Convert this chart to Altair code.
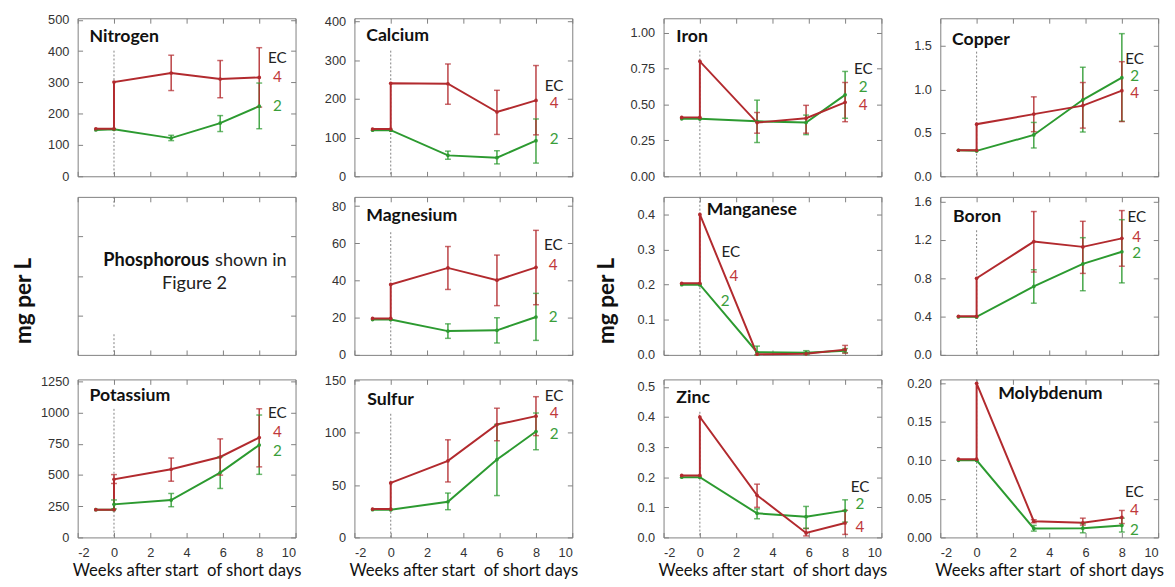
import altair as alt
import pandas as pd

# ---------------- data ----------------
WEEKS = [-1, 0, 0, 3.15, 5.85, 8]
X_TICKS = [-2, 0, 2, 4, 6, 8, 10]
X_TITLE = "Weeks after start\u00a0 of short days"
Y_TITLE = "mg per L"

# Nitrogen
N_EC4 = [152, 152, 301, 330, 311, 316]
N_EC4_HI = [None, None, None, 387, 370, 411]
N_EC4_LO = [None, None, None, 274, 251, 221]
N_EC2 = [148, 150, 150, 122, 170, 224]
N_EC2_HI = [None, None, None, 131, 194, 298]
N_EC2_LO = [None, None, None, 114, 143, 152]

# Calcium
CA_EC4 = [122, 122, 240, 239, 166, 196]
CA_EC4_HI = [None, None, None, 290, 222, 286]
CA_EC4_LO = [None, None, None, 186, 108, 107]
CA_EC2 = [119, 119, 119, 54, 48, 92]
CA_EC2_HI = [None, None, None, 65, 66, 148]
CA_EC2_LO = [None, None, None, 44, 32, 34]

# Iron
FE_EC4 = [0.41, 0.41, 0.80, 0.374, 0.404, 0.515]
FE_EC4_HI = [None, None, None, 0.444, 0.494, 0.653]
FE_EC4_LO = [None, None, None, 0.30, 0.30, 0.38]
FE_EC2 = [0.40, 0.40, 0.40, 0.383, 0.374, 0.567]
FE_EC2_HI = [None, None, None, 0.53, 0.426, 0.73]
FE_EC2_LO = [None, None, None, 0.235, 0.29, 0.404]

# Copper
CU_EC4 = [0.30, 0.30, 0.60, 0.716, 0.814, 0.986]
CU_EC4_HI = [None, None, None, 0.915, 1.08, 1.32]
CU_EC4_LO = [None, None, None, 0.514, 0.555, 0.63]
CU_EC2 = [0.30, 0.293, 0.293, 0.476, 0.881, 1.136]
CU_EC2_HI = [None, None, None, 0.62, 1.256, 1.643]
CU_EC2_LO = [None, None, None, 0.326, 0.51, 0.634]

# Magnesium
MG_EC4 = [19.6, 19.6, 37.9, 46.8, 40.2, 47.1]
MG_EC4_HI = [None, None, None, 58.3, 53.7, 67.0]
MG_EC4_LO = [None, None, None, 35.2, 26.5, 27.0]
MG_EC2 = [19.0, 19.0, 19.0, 12.8, 13.2, 20.4]
MG_EC2_HI = [None, None, None, 16.7, 20.0, 33.1]
MG_EC2_LO = [None, None, None, 8.9, 6.4, 7.8]

# Manganese
MN_EC4 = [0.204, 0.204, 0.40, 0.002, 0.003, 0.015]
MN_EC4_HI = [None, None, None, None, None, 0.027]
MN_EC4_LO = [None, None, None, None, None, 0.005]
MN_EC2 = [0.20, 0.20, 0.20, 0.0075, 0.006, 0.012]
MN_EC2_HI = [None, None, None, 0.025, 0.012, 0.018]
MN_EC2_LO = [None, None, None, 0.0, 0.001, 0.006]

# Boron
B_EC4 = [0.403, 0.403, 0.80, 1.183, 1.128, 1.217]
B_EC4_HI = [None, None, None, 1.497, 1.395, 1.507]
B_EC4_LO = [None, None, None, 0.865, 0.851, 0.926]
B_EC2 = [0.397, 0.397, 0.397, 0.715, 0.95, 1.077]
B_EC2_HI = [None, None, None, 0.889, 1.224, 1.412]
B_EC2_LO = [None, None, None, 0.54, 0.67, 0.752]

# Potassium
K_EC4 = [222, 222, 466, 546, 644, 800]
K_EC4_HI = [None, None, 503, 636, 789, 1030]
K_EC4_LO = [None, None, 432, 450, 499, 565]
K_EC2 = [222, 222, 265, 299, 519, 740]
K_EC2_HI = [None, None, 300, 352, 645, 980]
K_EC2_LO = [None, None, 228, 246, 392, 505]

# Sulfur
S_EC4 = [27.1, 27.1, 52.1, 73.2, 107.9, 115.9]
S_EC4_HI = [None, None, None, 93.3, 123.5, 134.5]
S_EC4_LO = [None, None, None, 53.0, 92.4, 97.3]
S_EC2 = [26.5, 26.5, 26.5, 34.1, 74.4, 101.2]
S_EC2_HI = [None, None, None, 42.4, 108.0, 118.9]
S_EC2_LO = [None, None, None, 26.5, 40.0, 83.8]

# Zinc
ZN_EC4 = [0.206, 0.206, 0.40, 0.14, 0.015, 0.048]
ZN_EC4_HI = [None, None, None, 0.177, 0.03, 0.09]
ZN_EC4_LO = [None, None, None, 0.10, 0.005, 0.01]
ZN_EC2 = [0.20, 0.20, 0.20, 0.08, 0.069, 0.089]
ZN_EC2_HI = [None, None, None, 0.095, 0.103, 0.125]
ZN_EC2_LO = [None, None, None, 0.062, 0.03, 0.051]

# Molybdenum
MO_EC4 = [0.1015, 0.1015, 0.20, 0.021, 0.019, 0.026]
MO_EC4_HI = [None, None, None, 0.023, 0.025, 0.035]
MO_EC4_LO = [None, None, None, 0.019, 0.016, 0.018]
MO_EC2 = [0.100, 0.100, 0.100, 0.0117, 0.012, 0.0156]
MO_EC2_HI = [None, None, None, 0.0156, 0.018, 0.025]
MO_EC2_LO = [None, None, None, 0.0082, 0.006, 0.007]

# ---------------- styling / layout ----------------
RED = "#B22A2E"
GREEN = "#2C9A30"
RED_TXT = "#C0393B"
GREEN_TXT = "#3A9E3A"
FRAME = "#7F7F7F"
W, H = 222, 161
EXT = 40
TICK_FONT = "Liberation Sans"
TEXT_FONT = "Lato"

COLOR = alt.Color("series:N", scale=alt.Scale(domain=["EC2", "EC4"], range=[GREEN, RED]), legend=None)


def series_df(ec4, ec2):
    rows = []
    for name, vals in (("EC2", ec2), ("EC4", ec4)):
        for i, (w, v) in enumerate(zip(WEEKS, vals)):
            rows.append({"series": name, "idx": i, "week": w, "value": v})
    return pd.DataFrame(rows)


def err_df(ec4_hi, ec4_lo, ec2_hi, ec2_lo):
    rows = []
    for name, hi, lo in (("EC2", ec2_hi, ec2_lo), ("EC4", ec4_hi, ec4_lo)):
        for w, h, l in zip(WEEKS, hi, lo):
            if h is not None:
                rows.append({"series": name, "week": w, "hi": h, "lo": l})
    return pd.DataFrame(rows)


def x_axis(bottom_row):
    kw = dict(values=X_TICKS, orient="bottom", offset=-5, tickSize=5, grid=False,
              domain=False, tickColor=FRAME)
    if bottom_row:
        return alt.Axis(labels=True, labelExpr="'' + datum.value", labelPadding=9,
                        labelFont=TICK_FONT, labelFontSize=13, labelColor="#333",
                        title=X_TITLE, titleFont=TEXT_FONT, titleFontSize=17,
                        titleFontWeight="normal", titleColor="#111", titlePadding=4, **kw)
    return alt.Axis(labels=False, title=None, **kw)


def y_axis(ticks, fmt, with_title=False, title_pad=10, labels=True):
    kw = dict(values=ticks, orient="left", offset=-5, tickSize=5, grid=False,
              domain=False, tickColor=FRAME, minExtent=EXT, maxExtent=EXT, labels=labels)
    if labels:
        kw.update(format=fmt, labelFont=TICK_FONT, labelFontSize=13, labelColor="#333",
                  labelPadding=9)
    if with_title:
        kw.update(title=Y_TITLE, titleFont=TEXT_FONT, titleFontSize=23, titleFontWeight="bold",
                  titleColor="#111", titlePadding=title_pad, titleY=H / 2 + 25)
    else:
        kw.update(title=None)
    return alt.Axis(**kw)


def frame_axes_layer(df, xs, ys, yticks):
    return alt.Chart(df).mark_point(opacity=0).encode(
        x=alt.X("week:Q", scale=xs, axis=alt.Axis(orient="top", values=X_TICKS, offset=-5,
                                                   tickSize=5, labels=False, title=None,
                                                   grid=False, domain=False, tickColor=FRAME)),
        y=alt.Y("value:Q", scale=ys, axis=alt.Axis(orient="right", values=yticks, offset=-5,
                                                    tickSize=5, labels=False, title=None,
                                                    grid=False, domain=False, tickColor=FRAME,
                                                    minExtent=0, maxExtent=0)),
    )


ONE = pd.DataFrame({"k": [0]})


def text_at(txt, x, y, color, xs, ys, size=15.5):
    return alt.Chart(ONE).mark_text(font=TEXT_FONT, fontSize=size, color=color,
                                    align="center", baseline="middle").encode(
        x=alt.XDatum(x, scale=xs, axis=None),
        y=alt.YDatum(y, scale=ys, axis=None),
        text=alt.value(txt),
    )


def panel(name, ec4, ec4_hi, ec4_lo, ec2, ec2_hi, ec2_lo, ymax, yticks, fmt,
          title_xy, dash_top, labels, bottom_row, y_title=False, title_pad=10):
    df = series_df(ec4, ec2)
    edf = err_df(ec4_hi, ec4_lo, ec2_hi, ec2_lo)
    xs = alt.Scale(domain=[-2, 10], nice=False, zero=False)
    ys = alt.Scale(domain=[0, ymax], nice=False)

    dotted = alt.Chart(ONE).mark_rule(strokeDash=[2, 2], color="#808080", strokeWidth=1).encode(
        x=alt.XDatum(0, scale=xs, axis=None), y=alt.value(dash_top), y2=alt.value(H))
    lines = alt.Chart(df).mark_line(strokeWidth=2).encode(
        x=alt.X("week:Q", scale=xs, axis=x_axis(bottom_row)),
        y=alt.Y("value:Q", scale=ys, axis=y_axis(yticks, fmt, y_title, title_pad)),
        color=COLOR, order=alt.Order("idx:Q"))
    ex = alt.X("week:Q", scale=xs, axis=None)
    errs = alt.Chart(edf).mark_rule(strokeWidth=1.5, opacity=0.9).encode(
        x=ex, y=alt.Y("lo:Q", scale=ys, axis=None), y2="hi:Q", color=COLOR)
    cap_hi = alt.Chart(edf).mark_tick(orient="horizontal", size=6, thickness=1.5).encode(
        x=ex, y=alt.Y("hi:Q", scale=ys, axis=None), color=COLOR)
    cap_lo = alt.Chart(edf).mark_tick(orient="horizontal", size=6, thickness=1.5).encode(
        x=ex, y=alt.Y("lo:Q", scale=ys, axis=None), color=COLOR)
    dots = alt.Chart(df).mark_circle(size=14, opacity=1).encode(
        x=ex, y=alt.Y("value:Q", scale=ys, axis=None), color=COLOR)
    frame = frame_axes_layer(df, xs, ys, yticks)
    title = alt.Chart(ONE).mark_text(font=TEXT_FONT, fontSize=18, fontWeight="bold",
                                     color="#111", align="left", baseline="middle").encode(
        x=alt.value(title_xy[0]), y=alt.value(title_xy[1]), text=alt.value(name))
    (ecx, ecy), (fx, fy), (tx, ty) = labels
    lab = [text_at("EC", ecx, ecy, "#222", xs, ys),
           text_at("4", fx, fy, RED_TXT, xs, ys),
           text_at("2", tx, ty, GREEN_TXT, xs, ys)]
    return alt.layer(dotted, lines, errs, cap_hi, cap_lo, dots, frame, *lab, title).resolve_axis(
        x="independent", y="independent").properties(width=W, height=H)


def phosphorous_panel():
    xs = alt.Scale(domain=[-2, 10], nice=False, zero=False)
    ys = alt.Scale(domain=[0, 4], nice=False)
    df = pd.DataFrame({"week": [-1], "value": [1]})
    base = alt.Chart(df).mark_point(opacity=0).encode(
        x=alt.X("week:Q", scale=xs, axis=x_axis(False)),
        y=alt.Y("value:Q", scale=ys, axis=y_axis([1, 2, 3], "d", True, 8.5, labels=False)))
    frame = frame_axes_layer(df, xs, ys, [1, 2, 3])
    d1 = alt.Chart(ONE).mark_rule(strokeDash=[2, 2], color="#808080").encode(
        x=alt.XDatum(0, scale=xs, axis=None), y=alt.value(0), y2=alt.value(10))
    d2 = alt.Chart(ONE).mark_rule(strokeDash=[2, 2], color="#808080").encode(
        x=alt.XDatum(0, scale=xs, axis=None), y=alt.value(H - 21), y2=alt.value(H))
    t1 = alt.Chart(ONE).mark_text(font=TEXT_FONT, fontSize=18.5, fontWeight="bold", color="#111",
                                  align="right", baseline="middle").encode(
        x=alt.value(134), y=alt.value(64), text=alt.value("Phosphorous"))
    t2 = alt.Chart(ONE).mark_text(font=TEXT_FONT, fontSize=18.5, color="#222",
                                  align="left", baseline="middle").encode(
        x=alt.value(140), y=alt.value(64), text=alt.value("shown in"))
    t3 = alt.Chart(ONE).mark_text(font=TEXT_FONT, fontSize=18.5, color="#222",
                                  align="center", baseline="middle").encode(
        x=alt.value(119), y=alt.value(88), text=alt.value("Figure 2"))
    return alt.layer(base, frame, d1, d2, t1, t2, t3).resolve_axis(
        x="independent", y="independent").properties(width=W, height=H)


panels = [
    panel("Nitrogen", N_EC4, N_EC4_HI, N_EC4_LO, N_EC2, N_EC2_HI, N_EC2_LO,
          505, [0, 100, 200, 300, 400, 500], "d", (12, 19), 33,
          [(9.0, 378), (9.0, 316), (9.0, 224)], False),
    panel("Calcium", CA_EC4, CA_EC4_HI, CA_EC4_LO, CA_EC2, CA_EC2_HI, CA_EC2_LO,
          408, [0, 100, 200, 300, 400], "d", (12, 18), 33,
          [(9.0, 234), (9.0, 190), (9.0, 97)], False),
    panel("Iron", FE_EC4, FE_EC4_HI, FE_EC4_LO, FE_EC2, FE_EC2_HI, FE_EC2_LO,
          1.1, [0, 0.25, 0.5, 0.75, 1.0], ".2f", (13, 19), 33,
          [(9.0, 0.745), (9.0, 0.494), (9.0, 0.62)], False),
    panel("Copper", CU_EC4, CU_EC4_HI, CU_EC4_LO, CU_EC2, CU_EC2_HI, CU_EC2_LO,
          1.82, [0, 0.5, 1.0, 1.5], ".1f", (12, 22), 34,
          [(8.7, 1.35), (8.7, 0.955), (8.7, 1.15)], False),
    phosphorous_panel(),
    panel("Magnesium", MG_EC4, MG_EC4_HI, MG_EC4_LO, MG_EC2, MG_EC2_HI, MG_EC2_LO,
          85, [0, 20, 40, 60, 80], "d", (12, 20), 36,
          [(8.95, 59), (8.95, 48.5), (8.95, 20.3)], False),
    panel("Manganese", MN_EC4, MN_EC4_HI, MN_EC4_LO, MN_EC2, MN_EC2_HI, MN_EC2_LO,
          0.45, [0, 0.1, 0.2, 0.3, 0.4], ".1f", (44, 13), 0,
          [(1.71, 0.294), (1.88, 0.225), (1.39, 0.154)], False, y_title=True, title_pad=10.5),
    panel("Boron", B_EC4, B_EC4_HI, B_EC4_LO, B_EC2, B_EC2_HI, B_EC2_LO,
          1.65, [0, 0.4, 0.8, 1.2, 1.6], ".1f", (13, 21), 34,
          [(8.82, 1.44), (8.82, 1.235), (8.82, 1.06)], False),
    panel("Potassium", K_EC4, K_EC4_HI, K_EC4_LO, K_EC2, K_EC2_HI, K_EC2_LO,
          1265, [0, 250, 500, 750, 1000, 1250], "d", (12, 17), 30,
          [(9.0, 995), (9.0, 842), (9.0, 692)], True),
    panel("Sulfur", S_EC4, S_EC4_HI, S_EC4_LO, S_EC2, S_EC2_HI, S_EC2_LO,
          151, [0, 50, 100, 150], "d", (13, 21), 35,
          [(9.0, 135), (9.0, 118.6), (9.0, 99)], True),
    panel("Zinc", ZN_EC4, ZN_EC4_HI, ZN_EC4_LO, ZN_EC2, ZN_EC2_HI, ZN_EC2_LO,
          0.525, [0, 0.1, 0.2, 0.3, 0.4, 0.5], ".1f", (13, 19), 33,
          [(8.82, 0.167), (8.82, 0.034), (8.82, 0.112)], True),
    panel("Molybdenum", MO_EC4, MO_EC4_HI, MO_EC4_LO, MO_EC2, MO_EC2_HI, MO_EC2_LO,
          0.205, [0, 0.05, 0.1, 0.15, 0.2], ".2f", (59, 15), 0,
          [(8.69, 0.059), (8.69, 0.035), (8.69, 0.0100)], True),
]

chart = alt.concat(*panels, columns=4, spacing=alt.RowColnumber(row=11, column=17)).properties(
    padding={"left": 4, "top": 0, "right": 2, "bottom": 0}
).configure_view(stroke=FRAME, strokeWidth=1)

chart.save("out.html", embed_options={"renderer": "svg", "actions": False})
